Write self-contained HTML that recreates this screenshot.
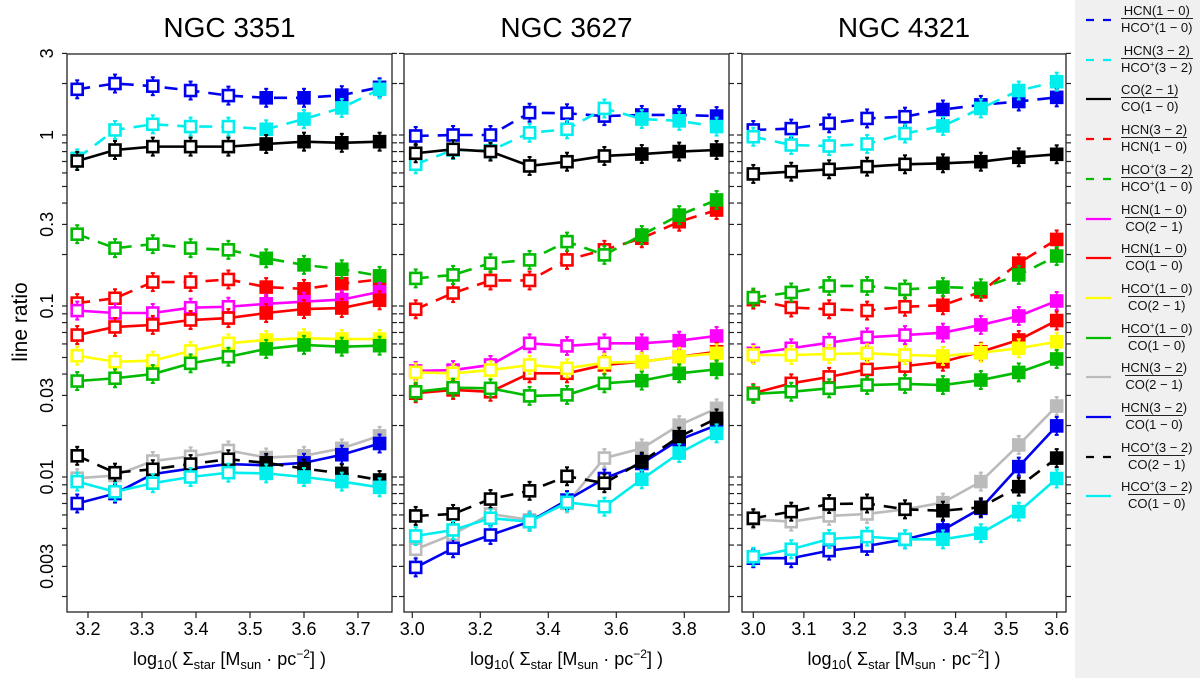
<!DOCTYPE html>
<html><head><meta charset="utf-8">
<style>
html,body{margin:0;padding:0;background:#fff;}
body{width:1200px;height:678px;position:relative;overflow:hidden;font-family:"Liberation Sans",sans-serif;}
#legend{position:absolute;left:1075px;top:0;width:125px;height:678px;background:#f0f0f0;}
.entry{position:absolute;left:0;width:125px;height:32px;}
.entry svg{position:absolute;left:10px;top:15px;}
.frac{position:absolute;left:46px;top:0;display:inline-flex;flex-direction:column;align-items:center;font-size:13px;line-height:15px;color:#111;}
.frac .den{border-top:1px solid #222;padding-top:1px;}
.frac sup{font-size:8px;vertical-align:5px;line-height:0;}
</style></head>
<body>
<svg id="chart" width="1075" height="678" style="position:absolute;left:0;top:0" xmlns="http://www.w3.org/2000/svg"></svg>
<div id="legend"></div>
<script>
// ---- data ----
const galaxies = ["NGC 3351","NGC 3627","NGC 4321"];
const xValsP1 = [3.18,3.25,3.32,3.39,3.46,3.53,3.60,3.67,3.74];
const xValsP2 = [3.01,3.12,3.23,3.345,3.455,3.565,3.675,3.785,3.895];
const xValsP3 = [3.0,3.075,3.15,3.225,3.3,3.375,3.45,3.525,3.6];
const xTicksP1 = ["3.2","3.3","3.4","3.5","3.6","3.7"];
const xTicksP2 = ["3.0","3.2","3.4","3.6","3.8"];
const xTicksP3 = ["3.0","3.1","3.2","3.3","3.4","3.5","3.6"];
const yTickLabels = ["3","1","0.3","0.1","0.03","0.01","0.003"];
const filledFrom = [5,6,5];
const seriesNames = ["hcn10-hcop10","hcn32-hcop32","co21-co10","hcn32-hcn10","hcop32-hcop10","hcn10-co21","hcn10-co10","hcop10-co21","hcop10-co10","hcn32-co21","hcn32-co10","hcop32-co21","hcop32-co10"];
// NGC 3351
const p1s0=[1.85,2.0,1.93,1.82,1.70,1.65,1.65,1.71,1.90];
const p1s1=[0.73,1.07,1.155,1.12,1.12,1.08,1.24,1.44,1.85];
const p1s2=[0.705,0.817,0.855,0.855,0.855,0.886,0.914,0.90,0.914];
const p1s3=[0.104,0.111,0.138,0.138,0.143,0.129,0.126,0.135,0.143];
const p1s4=[0.263,0.218,0.23,0.218,0.213,0.19,0.174,0.164,0.150];
const p1s5=[0.094,0.091,0.091,0.0977,0.099,0.103,0.106,0.109,0.121];
const p1s6=[0.0676,0.0754,0.0775,0.0828,0.085,0.091,0.096,0.0973,0.108];
const p1s7=[0.0512,0.0472,0.0479,0.0546,0.0605,0.0633,0.0648,0.0641,0.0641];
const p1s8=[0.0364,0.0378,0.040,0.0462,0.0505,0.0561,0.0592,0.0578,0.0586];
const p1s9=[0.00984,0.0102,0.0124,0.0132,0.0143,0.0130,0.0133,0.0147,0.0174];
const p1s10=[0.0070,0.0080,0.0104,0.0112,0.0119,0.0117,0.0121,0.0135,0.0157];
const p1s11=[0.0133,0.0106,0.0111,0.0119,0.0127,0.0121,0.0112,0.0105,0.0096];
const p1s12=[0.0094,0.0082,0.0092,0.0100,0.0106,0.0105,0.0100,0.0094,0.0087];
// NGC 3627
const p2s0=[0.987,1.0,1.0,1.35,1.34,1.29,1.31,1.31,1.29];
const p2s1=[0.674,0.817,0.81,1.03,1.08,1.43,1.24,1.21,1.12];
const p2s2=[0.782,0.825,0.80,0.659,0.698,0.754,0.774,0.80,0.817];
const p2s3=[0.0957,0.119,0.141,0.141,0.186,0.213,0.249,0.311,0.364];
const p2s4=[0.145,0.152,0.178,0.186,0.238,0.199,0.260,0.340,0.417];
const p2s5=[0.0417,0.0422,0.0452,0.0605,0.0584,0.0605,0.0605,0.0627,0.0668];
const p2s6=[0.0309,0.0323,0.0315,0.0404,0.0404,0.0452,0.0472,0.0505,0.054];
const p2s7=[0.0409,0.0404,0.0422,0.0452,0.0432,0.0466,0.0472,0.0505,0.0529];
const p2s8=[0.0315,0.0333,0.033,0.0298,0.0302,0.0353,0.0366,0.0404,0.0426];
const p2s9=[0.00378,0.00462,0.00608,0.00561,0.0070,0.0129,0.0147,0.0201,0.0252];
const p2s10=[0.00296,0.00383,0.00458,0.00548,0.00733,0.0098,0.0120,0.0165,0.0201];
const p2s11=[0.00592,0.00608,0.00743,0.0083,0.0101,0.0092,0.0123,0.0172,0.0220];
const p2s12=[0.00452,0.0049,0.00574,0.00548,0.00711,0.0067,0.0097,0.0138,0.018];
// NGC 4321
const p3s0=[1.07,1.09,1.17,1.25,1.28,1.41,1.50,1.57,1.66];
const p3s1=[0.977,0.874,0.862,0.886,1.02,1.13,1.43,1.82,2.05];
const p3s2=[0.592,0.61,0.63,0.653,0.674,0.683,0.698,0.741,0.771];
const p3s3=[0.109,0.098,0.0957,0.094,0.099,0.101,0.121,0.178,0.245];
const p3s4=[0.112,0.120,0.131,0.131,0.125,0.129,0.127,0.152,0.196];
const p3s5=[0.0529,0.0566,0.061,0.0656,0.0676,0.0698,0.0775,0.0874,0.107];
const p3s6=[0.0309,0.0353,0.0385,0.0426,0.0445,0.0472,0.054,0.0633,0.0822];
const p3s7=[0.0517,0.0517,0.0524,0.0529,0.0517,0.051,0.0533,0.0566,0.0618];
const p3s8=[0.0306,0.0315,0.033,0.0345,0.035,0.0345,0.0369,0.0409,0.049];
const p3s9=[0.00566,0.00548,0.00592,0.00608,0.00647,0.00708,0.0094,0.0154,0.026];
const p3s10=[0.00335,0.00335,0.00371,0.00395,0.00432,0.0049,0.00656,0.0115,0.0199];
const p3s11=[0.00574,0.00627,0.00695,0.0070,0.00647,0.00635,0.00665,0.00878,0.0129];
const p3s12=[0.00342,0.00378,0.00434,0.00448,0.00432,0.00432,0.00469,0.00627,0.0098];

const panelSeries=[[p1s0,p1s1,p1s2,p1s3,p1s4,p1s5,p1s6,p1s7,p1s8,p1s9,p1s10,p1s11,p1s12],
 [p2s0,p2s1,p2s2,p2s3,p2s4,p2s5,p2s6,p2s7,p2s8,p2s9,p2s10,p2s11,p2s12],
 [p3s0,p3s1,p3s2,p3s3,p3s4,p3s5,p3s6,p3s7,p3s8,p3s9,p3s10,p3s11,p3s12]];
const panelX=[xValsP1,xValsP2,xValsP3];
const panelTicks=[xTicksP1,xTicksP2,xTicksP3];

// ---- styles ----
const colors=["#0000ee","#00eeee","#000000","#ff0000","#00bb00","#ff00ff","#ff0000","#ffff00","#00bb00","#bbbbbb","#0000ee","#000000","#00eeee"];
const dashed=[true,true,false,true,true,false,false,false,false,false,false,true,false];
const numTxt=["HCN(1 − 0)","HCN(3 − 2)","CO(2 − 1)","HCN(3 − 2)","HCO<sup>+</sup>(3 − 2)","HCN(1 − 0)","HCN(1 − 0)","HCO<sup>+</sup>(1 − 0)","HCO<sup>+</sup>(1 − 0)","HCN(3 − 2)","HCN(3 − 2)","HCO<sup>+</sup>(3 − 2)","HCO<sup>+</sup>(3 − 2)"];
const denTxt=["HCO<sup>+</sup>(1 − 0)","HCO<sup>+</sup>(3 − 2)","CO(1 − 0)","HCN(1 − 0)","HCO<sup>+</sup>(1 − 0)","CO(2 − 1)","CO(1 − 0)","CO(2 − 1)","CO(1 − 0)","CO(2 − 1)","CO(1 − 0)","CO(2 − 1)","CO(1 − 0)"];

const panels=[{l:67,r:392,x0:3.2,x1:3.7,px0:88,px1:358},
              {l:404,r:729,x0:3.0,x1:3.8,px0:412.3,px1:684.3},
              {l:742,r:1066,x0:3.0,x1:3.6,px0:753.3,px1:1056.7}];
const TOP=54,BOT=612;
function yScale(v){return 135-171*Math.log10(v);}
function xScaleFn(p){return v=>p.px0+(v-p.x0)*(p.px1-p.px0)/(p.x1-p.x0);}

const NS="http://www.w3.org/2000/svg";
const svg=document.getElementById('chart');
function mk(tag,attrs,parent){const e=document.createElementNS(NS,tag);for(const k in attrs)e.setAttribute(k,attrs[k]);(parent||svg).appendChild(e);return e;}

const yt=mk('text',{x:0,y:0,transform:'translate(27,322) rotate(-90)','text-anchor':'middle','font-size':21,'font-family':'Liberation Sans, sans-serif'});
yt.textContent='line ratio';


yTickLabels.forEach(t=>{
  const y=yScale(parseFloat(t));
  const e=mk('text',{x:0,y:0,transform:`translate(53,${y}) rotate(-90)`,'text-anchor':'middle','font-size':18,'font-family':'Liberation Sans, sans-serif'});
  e.textContent=t;
  
  
});
const minorVals=[];
for(let k=-3;k<=0;k++)for(let m=1;m<=9;m++){const v=m*Math.pow(10,k);if(v>=0.0016&&v<=3.01)minorVals.push(v);}

panels.forEach((p,pi)=>{
  const xs=xScaleFn(p);
  const g=mk('g',{});
  
  
  const title=mk('text',{x:(p.l+p.r)/2,y:37,'text-anchor':'middle','font-size':28,'font-family':'Liberation Sans, sans-serif'},g);
  title.textContent=galaxies[pi];
  
  
  const box=mk('rect',{x:p.l,y:TOP,width:p.r-p.l,height:BOT-TOP,fill:'none',stroke:'#222','stroke-width':1.3},g);
  
  
  minorVals.forEach(v=>{const y=yScale(v);
    mk('line',{x1:p.l-5,x2:p.l,y1:y,y2:y,stroke:'#222','stroke-width':1.2},g);
    mk('line',{x1:p.r,x2:p.r+5,y1:y,y2:y,stroke:'#222','stroke-width':1.2},g);
  });
  panelTicks[pi].forEach(t=>{const x=xs(parseFloat(t));
    mk('line',{x1:x,x2:x,y1:BOT,y2:BOT+6,stroke:'#222','stroke-width':1.2},g);
    const e=mk('text',{x:x,y:635,'text-anchor':'middle','font-size':18,'font-family':'Liberation Sans, sans-serif'},g);
    e.textContent=t;
    
    
  });
  const xt=mk('text',{x:(p.l+p.r)/2,y:665,'text-anchor':'middle','font-size':18,'font-family':'Liberation Sans, sans-serif'},g);
  xt.innerHTML='log<tspan font-size="13" dy="4">10</tspan><tspan dy="-4">( Σ</tspan><tspan font-size="13" dy="4">star</tspan><tspan dy="-4"> [M</tspan><tspan font-size="13" dy="4">sun</tspan><tspan dy="-4"> · pc</tspan><tspan font-size="12" dy="-7">−2</tspan><tspan dy="7">] )</tspan>';
  
  
  const xv=panelX[pi];
  panelSeries[pi].forEach((vals,si)=>{
    const sg=mk('g',{},g);
    
    
    const pts=vals.map((v,i)=>[xs(xv[i]),yScale(v)]);
    const line=mk('polyline',{points:pts.map(q=>q.join(',')).join(' '),fill:'none',stroke:colors[si],'stroke-width':2.6,'stroke-dasharray':dashed[si]?'13,9':'none'},sg);
    
    
    pts.forEach((q,i)=>{
      const e1=q[1]-9,e2=q[1]+9;
      mk('line',{x1:q[0],x2:q[0],y1:e1,y2:e2,stroke:colors[si],'stroke-width':2},sg);
      mk('line',{x1:q[0]-2,x2:q[0]+2,y1:e1,y2:e1,stroke:colors[si],'stroke-width':2},sg);
      mk('line',{x1:q[0]-2,x2:q[0]+2,y1:e2,y2:e2,stroke:colors[si],'stroke-width':2},sg);
      const filled=i>=filledFrom[pi];
      const r=mk('rect',{x:q[0]-5.5,y:q[1]-5.5,width:11,height:11,fill:filled?colors[si]:'#fff',stroke:colors[si],'stroke-width':2.6},sg);
      
      
    });
  });
});

const leg=document.getElementById('legend');
seriesNames.forEach((n,i)=>{
  const d=document.createElement('div');
  d.className='entry';
  d.style.top=(19+39.7*i-16)+'px';
  
  
  d.innerHTML=`<svg width="28" height="4"><line x1="1" y1="2" x2="26" y2="2" stroke="${colors[i]}" stroke-width="2.2" ${dashed[i]?'stroke-dasharray="8,9"':''}/></svg><div class="frac"><span class="num">${numTxt[i]}</span><span class="den">${denTxt[i]}</span></div>`;
  leg.appendChild(d);
});
</script>
</body></html>
